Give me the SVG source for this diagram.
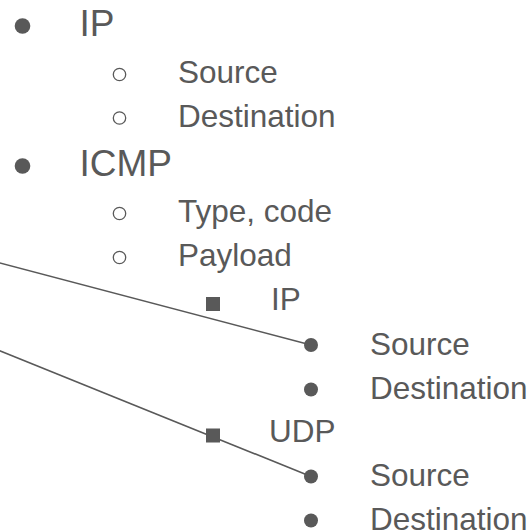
<svg xmlns="http://www.w3.org/2000/svg" width="532" height="532" viewBox="0 0 532 532">
  <style>
    text { font-family: "Liberation Sans", Arial, sans-serif; fill: #595959; }
    .l1 { font-size: 37px; }
    .sub { font-size: 31.5px; }
    .dot { fill: #595959; }
    .ring { fill: none; stroke: #595959; stroke-width: 1.3; }
    .wire { stroke: #595959; stroke-width: 1.6; fill: none; }
  </style>
  <rect width="532" height="532" fill="#ffffff"/>

  <!-- leader lines coming in from the left -->
  <g id="connectors">
    <line class="wire" x1="-2" y1="262.5" x2="311" y2="345"/>
    <line class="wire" x1="-2" y1="350" x2="311" y2="476.5"/>
  </g>

  <g id="ip">
    <circle class="dot" cx="22.5" cy="26" r="7.8"/>
    <text class="l1" x="79.5" y="36">IP</text>
  </g>
  <g id="ip-source">
    <circle class="ring" cx="119.5" cy="74.5" r="6.2"/>
    <text class="sub" x="178" y="83">Source</text>
  </g>
  <g id="ip-destination">
    <circle class="ring" cx="119.5" cy="118" r="6.2"/>
    <text class="sub" x="178" y="127">Destination</text>
  </g>

  <g id="icmp">
    <circle class="dot" cx="22.5" cy="166" r="7.8"/>
    <text class="l1" x="79.5" y="176">ICMP</text>
  </g>
  <g id="icmp-type">
    <circle class="ring" cx="119.5" cy="213.5" r="6.2"/>
    <text class="sub" x="178" y="222">Type, code</text>
  </g>
  <g id="icmp-payload">
    <circle class="ring" cx="119.5" cy="257.5" r="6.2"/>
    <text class="sub" x="178" y="266">Payload</text>
  </g>

  <g id="payload-ip">
    <rect class="dot" x="206" y="297" width="14" height="14"/>
    <text class="sub" x="271" y="310">IP</text>
  </g>
  <g id="payload-ip-source">
    <circle class="dot" cx="311" cy="345" r="7"/>
    <text class="sub" x="370" y="354.5">Source</text>
  </g>
  <g id="payload-ip-destination">
    <circle class="dot" cx="311" cy="389.5" r="7"/>
    <text class="sub" x="370" y="399">Destination</text>
  </g>

  <g id="payload-udp">
    <rect class="dot" x="206" y="428.5" width="14" height="14"/>
    <text class="sub" x="269" y="442">UDP</text>
  </g>
  <g id="payload-udp-source">
    <circle class="dot" cx="311" cy="476.5" r="7"/>
    <text class="sub" x="370" y="486">Source</text>
  </g>
  <g id="payload-udp-destination">
    <circle class="dot" cx="311" cy="520.5" r="7"/>
    <text class="sub" x="370" y="529.5">Destination</text>
  </g>
</svg>
